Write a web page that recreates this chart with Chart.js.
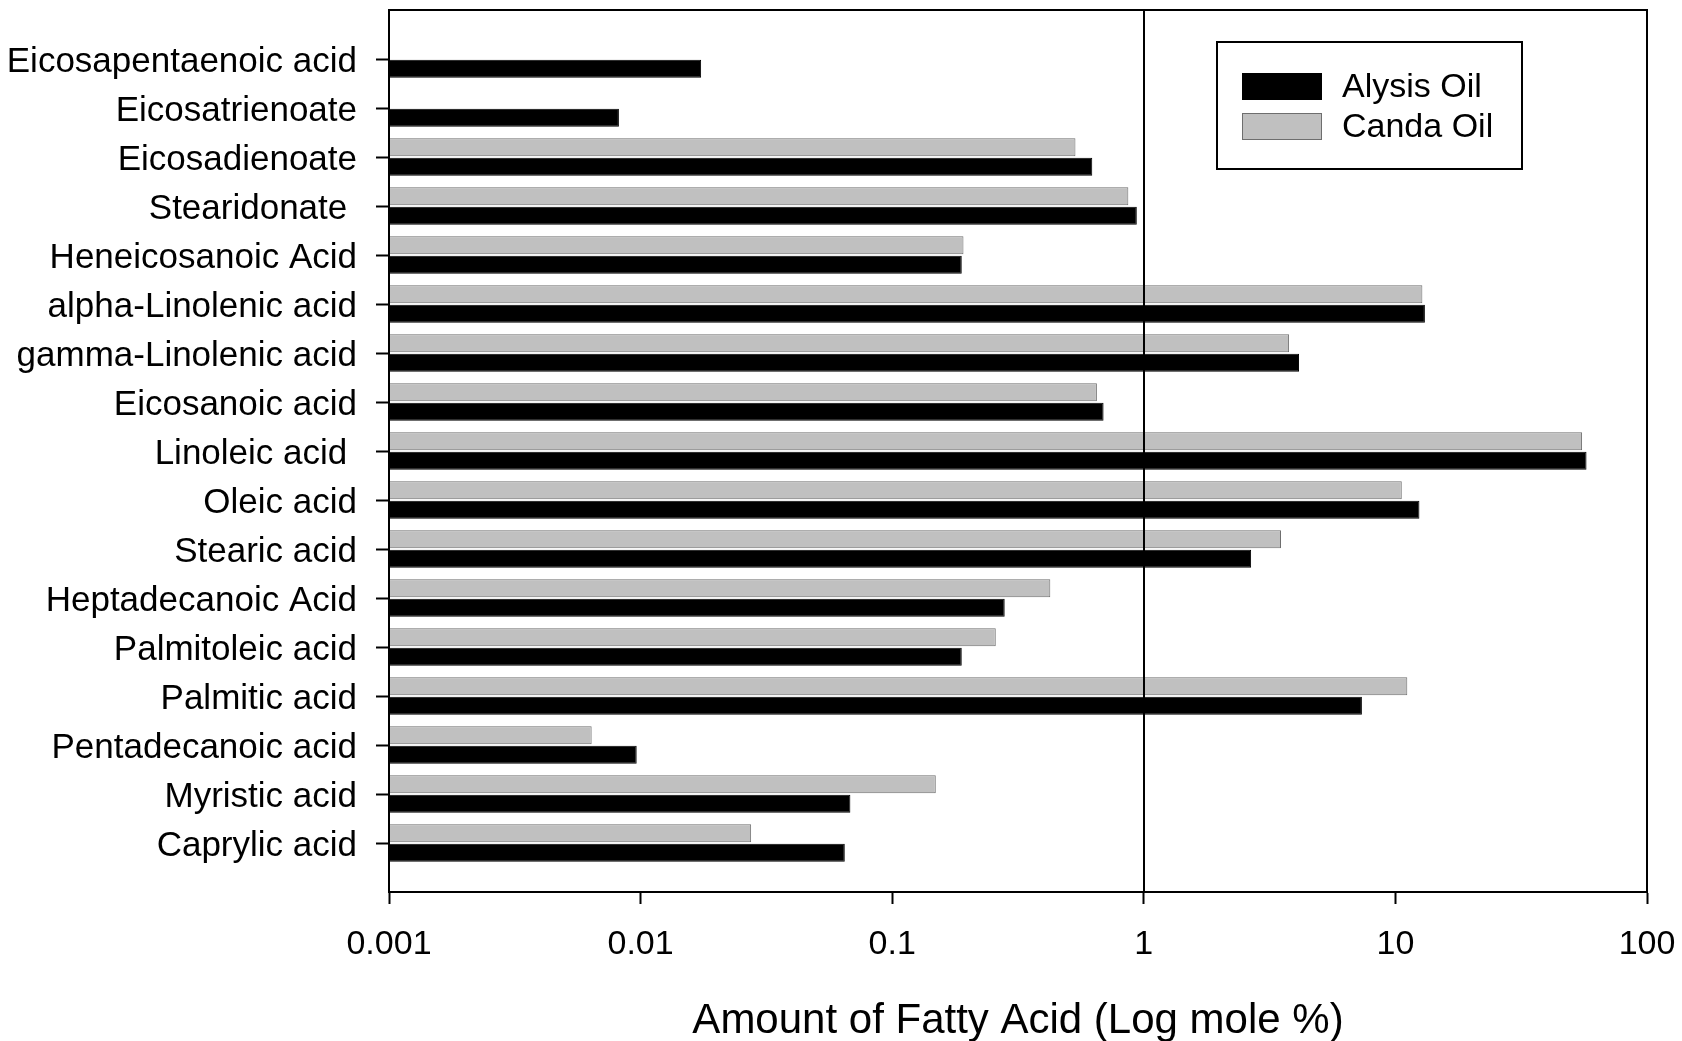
<!DOCTYPE html>
<html>
<head>
<meta charset="utf-8">
<script src="https://cdn.jsdelivr.net/npm/chart.js@4.4.1/dist/chart.umd.min.js"></script>
<style>
  html, body { margin: 0; padding: 0; background: #fff; }
  #wrap { width: 1682px; height: 1041px; }
</style>
</head>
<body>
<div id="wrap"><canvas id="fattyAcidChart"></canvas></div>
<script>
// categories, top to bottom as in the figure
const acidNames = [
  'Eicosapentaenoic acid',
  'Eicosatrienoate',
  'Eicosadienoate',
  'Stearidonate ',
  'Heneicosanoic Acid',
  'alpha-Linolenic acid',
  'gamma-Linolenic acid',
  'Eicosanoic acid',
  'Linoleic acid ',
  'Oleic acid',
  'Stearic acid',
  'Heptadecanoic Acid',
  'Palmitoleic acid',
  'Palmitic acid',
  'Pentadecanoic acid',
  'Myristic acid',
  'Caprylic acid'
];

// mole %
const alysisOil = [0.0174, 0.0082, 0.624, 0.938, 0.189, 13.1, 4.14, 0.692, 57.5, 12.46, 2.67, 0.280, 0.189, 7.36, 0.00965, 0.0682, 0.0648];
const candaOil = [null, null, 0.535, 0.868, 0.192, 12.8, 3.78, 0.651, 55.2, 10.6, 3.51, 0.425, 0.258, 11.15, 0.00639, 0.149, 0.0275];

const xTickValues = [0.001, 0.01, 0.1, 1, 10, 100];
const xTitle = 'Amount of Fatty Acid (Log mole %)';

const fontFamily = "'Liberation Sans', Arial, sans-serif";
Chart.defaults.font.family = fontFamily;
Chart.defaults.color = '#000';

// blank slot above and below so the frame leaves a full row of space
const yLabels = [''].concat(acidNames, ['']);
const pad = arr => [null].concat(arr, [null]);

const frameAndLegend = {
  id: 'frameAndLegend',
  afterDatasetsDraw(chart) {
    const { ctx, chartArea: a, scales: { x } } = chart;
    ctx.save();
    ctx.strokeStyle = '#000';
    ctx.lineWidth = 2;
    ctx.strokeRect(a.left, a.top, a.right - a.left, a.bottom - a.top);

    // reference line at 1 %
    const x1 = Math.round(x.getPixelForValue(1));
    ctx.beginPath();
    ctx.moveTo(x1, a.top);
    ctx.lineTo(x1, a.bottom);
    ctx.stroke();

    // legend box
    const boxW = 305, boxH = 127;
    const boxL = a.right - 125 - boxW;
    const boxT = a.top + 32;
    ctx.fillStyle = '#fff';
    ctx.fillRect(boxL, boxT, boxW, boxH);
    ctx.strokeRect(boxL, boxT, boxW, boxH);

    const items = chart.data.datasets.slice().reverse();
    ctx.font = '34px ' + fontFamily;
    ctx.textBaseline = 'middle';
    ctx.textAlign = 'left';
    items.forEach((ds, i) => {
      const sy = boxT + 31 + i * 40;
      ctx.fillStyle = ds.backgroundColor;
      ctx.fillRect(boxL + 25, sy, 80, 27);
      ctx.lineWidth = 1;
      ctx.strokeStyle = ds.borderColor;
      ctx.strokeRect(boxL + 25.5, sy + 0.5, 79, 26);
      ctx.fillStyle = '#000';
      ctx.fillText(ds.label, boxL + 125, sy + 15);
    });
    ctx.restore();
  }
};

const ctx = document.getElementById('fattyAcidChart').getContext('2d');
const fattyAcidChart = new Chart(ctx, {
  type: 'bar',
  data: {
    labels: yLabels,
    datasets: [{
      label: 'Canda Oil',
      data: pad(candaOil),
      backgroundColor: '#c0c0c0',
      borderColor: '#6e6e6e',
      borderWidth: 1,
      categoryPercentage: 0.8,
      barPercentage: 0.92
    }, {
      label: 'Alysis Oil',
      data: pad(alysisOil),
      backgroundColor: '#000000',
      borderColor: '#000000',
      borderWidth: 1,
      categoryPercentage: 0.8,
      barPercentage: 0.92
    }]
  },
  options: {
    indexAxis: 'y',
    responsive: true,
    maintainAspectRatio: false,
    animation: false,
    layout: { padding: { top: 10, right: 35, bottom: 0, left: 0 } },
    plugins: {
      legend: { display: false },
      tooltip: { enabled: false }
    },
    scales: {
      x: {
        type: 'logarithmic',
        min: 0.001,
        max: 100,
        afterBuildTicks: scale => {
          scale.ticks = xTickValues.map(v => ({ value: v }));
        },
        ticks: {
          callback: v => String(v),
          font: { size: 34 },
          color: '#000',
          padding: 20,
          autoSkip: false,
          maxRotation: 0
        },
        grid: {
          drawOnChartArea: false,
          tickLength: 12,
          tickWidth: 2,
          tickColor: '#000'
        },
        border: { display: true, color: '#000', width: 2 },
        title: {
          display: true,
          text: xTitle,
          font: { size: 42, lineHeight: 0.95 },
          color: '#000',
          padding: 0
        },
        afterFit: scale => {
          scale.height = 149;
          scale.paddingLeft = 0;
          scale.paddingRight = 0;
        }
      },
      y: {
        type: 'category',
        offset: false,
        ticks: {
          font: { size: 35 },
          color: '#000',
          padding: 19,
          labelOffset: 3,
          autoSkip: false
        },
        grid: {
          offset: false,
          drawOnChartArea: false,
          tickLength: 13,
          tickWidth: 2,
          tickColor: c => (c.index === 0 || c.index === yLabels.length - 1) ? 'rgba(0,0,0,0)' : '#000'
        },
        border: { display: true, color: '#000', width: 2 },
        afterFit: scale => {
          scale.width = 389;
          scale.paddingTop = 0;
          scale.paddingBottom = 0;
        }
      }
    }
  },
  plugins: [frameAndLegend]
});
</script>
</body>
</html>
